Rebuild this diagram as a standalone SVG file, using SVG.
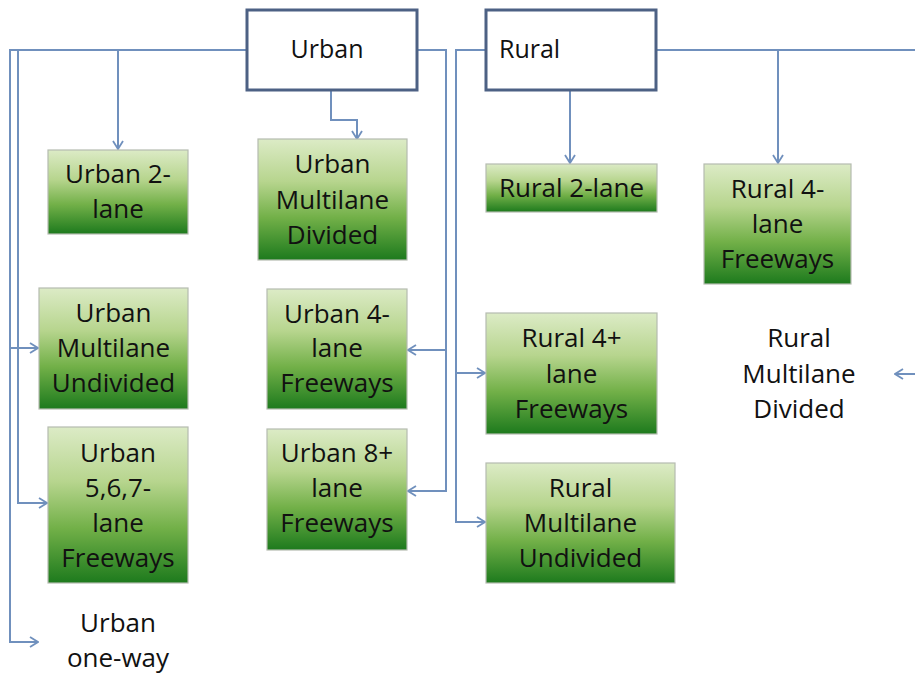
<svg xmlns="http://www.w3.org/2000/svg" width="915" height="674" viewBox="0 0 915 674">
<style>
.hdr{fill:#fff;stroke:#4d6184;stroke-width:3}
.box{fill:url(#g);stroke:#b5bbb0;stroke-width:1.2}
text{font-family:"Open Sans","Liberation Sans",sans-serif;font-size:26px;fill:#111;text-anchor:middle}
.h{font-size:25px}
.c{fill:none;stroke:#7090bd;stroke-width:2}
.a{marker-end:url(#arr)}
</style>
<defs>
<linearGradient id="g" x1="0" y1="0" x2="0" y2="1">
<stop offset="0" stop-color="#dcebc6"/>
<stop offset="0.35" stop-color="#b7d58e"/>
<stop offset="0.65" stop-color="#72b048"/>
<stop offset="1" stop-color="#1d7a1d"/>
</linearGradient>
<marker id="arr" viewBox="0 0 10 12" refX="9" refY="6" markerWidth="10" markerHeight="12" orient="auto" markerUnits="userSpaceOnUse">
<path d="M1,1 L9,6 L1,11" fill="none" stroke="#7090bd" stroke-width="1.8"/>
</marker>
</defs>
<g id="connectors">
<path class="c" d="M247,50 H10 V642 H38"/>
<path class="c a" d="M10,642 H38"/>
<path class="c a" d="M10,348 H38"/>
<path class="c a" d="M18,50 V503 H47"/>
<path class="c a" d="M118,50 V149"/>
<path class="c a" d="M331,90 V120 H357 V139"/>
<path class="c a" d="M417,50 H446 V491 H408"/>
<path class="c a" d="M446,350 H408"/>
<path class="c a" d="M486,50 H456 V522 H485"/>
<path class="c a" d="M456,373 H485"/>
<path class="c a" d="M570,90 V163"/>
<path class="c" d="M656,50 H915"/>
<path class="c a" d="M778,50 V163"/>
<path class="c a" d="M915,374 H895"/>
</g>
<g id="urban">
<rect class="hdr" x="247" y="10" width="170" height="80"/>
<text class="h" x="327" y="58">Urban</text>
</g>
<g id="rural">
<rect class="hdr" x="486" y="10" width="170" height="80"/>
<text class="h" x="499" y="58" style="text-anchor:start">Rural</text>
</g>
<g id="urban-2-lane">
<rect class="box" x="48" y="150" width="140" height="84"/>
<text x="118" y="183">Urban 2-</text>
<text x="118" y="218">lane</text>
</g>
<g id="urban-multilane-divided">
<rect class="box" x="258" y="139" width="149" height="121"/>
<text x="332.5" y="173">Urban</text>
<text x="332.5" y="209">Multilane</text>
<text x="332.5" y="244">Divided</text>
</g>
<g id="rural-2-lane">
<rect class="box" x="486" y="164" width="171" height="48"/>
<text x="571.5" y="197">Rural 2-lane</text>
</g>
<g id="rural-4-lane-freeways">
<rect class="box" x="704" y="164" width="147" height="120"/>
<text x="777.5" y="198">Rural 4-</text>
<text x="777.5" y="233">lane</text>
<text x="777.5" y="268">Freeways</text>
</g>
<g id="urban-multilane-undivided">
<rect class="box" x="39" y="288" width="149" height="121"/>
<text x="113.5" y="322">Urban</text>
<text x="113.5" y="357">Multilane</text>
<text x="113.5" y="392">Undivided</text>
</g>
<g id="urban-4-lane-freeways">
<rect class="box" x="267" y="289" width="140" height="120"/>
<text x="337" y="323">Urban 4-</text>
<text x="337" y="357">lane</text>
<text x="337" y="392">Freeways</text>
</g>
<g id="rural-4plus-lane-freeways">
<rect class="box" x="486" y="313" width="171" height="121"/>
<text x="571.5" y="347">Rural 4+</text>
<text x="571.5" y="383">lane</text>
<text x="571.5" y="418">Freeways</text>
</g>
<g id="rural-multilane-divided">
<text x="799" y="347">Rural</text>
<text x="799" y="383">Multilane</text>
<text x="799" y="418">Divided</text>
</g>
<g id="urban-567-lane-freeways">
<rect class="box" x="48" y="427" width="140" height="156"/>
<text x="118" y="462">Urban</text>
<text x="118" y="497">5,6,7-</text>
<text x="118" y="532">lane</text>
<text x="118" y="567">Freeways</text>
</g>
<g id="urban-8plus-lane-freeways">
<rect class="box" x="267" y="429" width="140" height="121"/>
<text x="337" y="462">Urban 8+</text>
<text x="337" y="497">lane</text>
<text x="337" y="532">Freeways</text>
</g>
<g id="rural-multilane-undivided">
<rect class="box" x="486" y="463" width="189" height="120"/>
<text x="580.5" y="497">Rural</text>
<text x="580.5" y="532">Multilane</text>
<text x="580.5" y="567">Undivided</text>
</g>
<g id="urban-one-way">
<text x="118" y="632">Urban</text>
<text x="118" y="667">one-way</text>
</g>
</svg>
